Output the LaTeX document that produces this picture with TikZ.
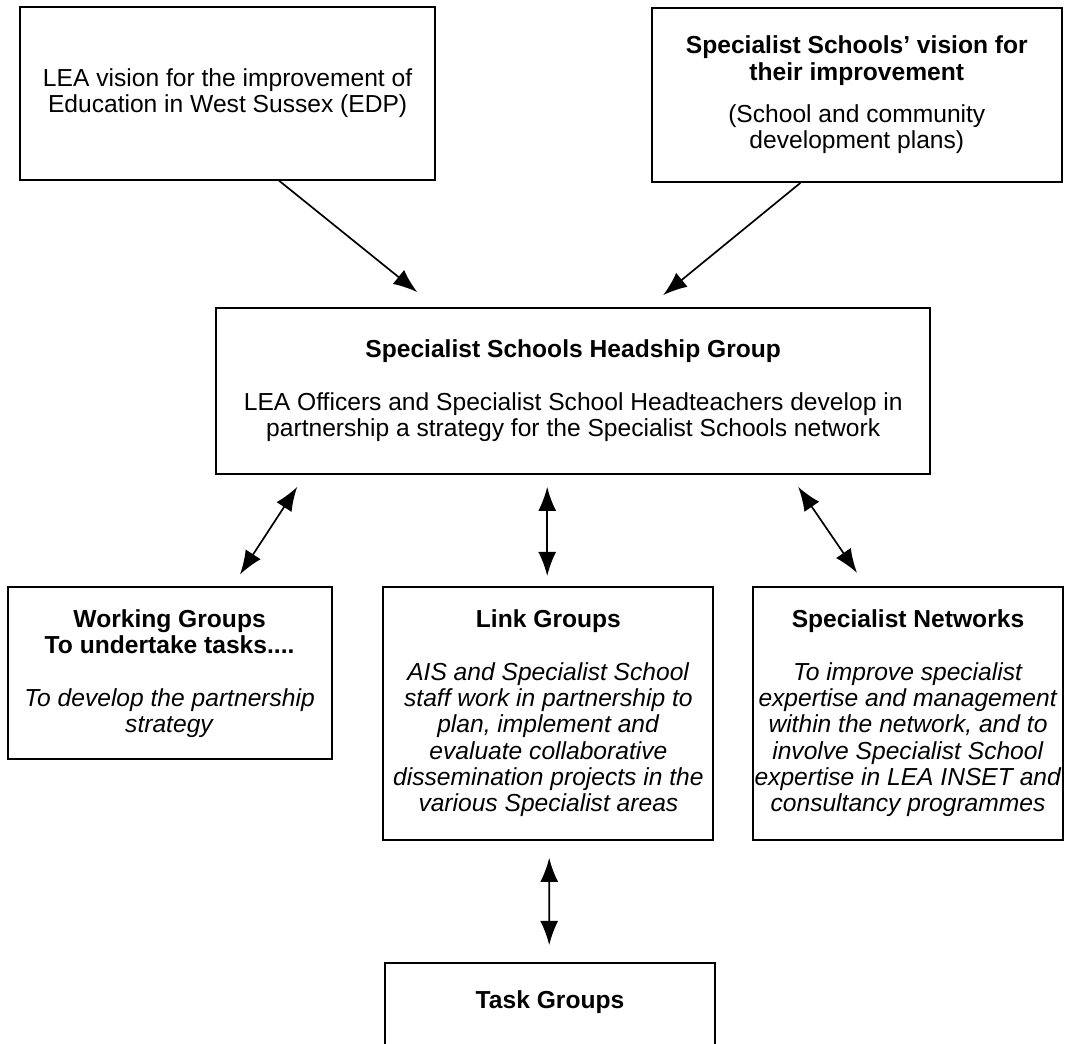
\documentclass[tikz,border=0pt]{standalone}
\usepackage{fontspec}
\setmainfont{Liberation Sans}
\usetikzlibrary{arrows.meta}

\begin{document}
\begin{tikzpicture}[
  box/.style={draw, line width=1.3pt, align=center, inner sep=0pt,
    font=\fontsize{17.5}{18.7}\selectfont},
  arr/.style={line width=1.2pt, -{Latex[length=0.6cm,width=0.45cm]}},
  darr/.style={line width=1.2pt, {Latex[length=0.6cm,width=0.45cm]}-{Latex[length=0.6cm,width=0.45cm]}}
]
\useasboundingbox (0,0) rectangle (26.625,26.075);
\clip (0,0) rectangle (26.625,26.075);

% top row
\node[box, minimum width=10.375cm, minimum height=4.325cm] (lea) at (5.69,23.74)
  {LEA vision for the improvement of\\Education in West Sussex (EDP)};
\node[box, minimum width=10.25cm, minimum height=4.35cm] (vision) at (21.42,23.7)
  {\textbf{Specialist Schools’ vision for}\\\textbf{their improvement}\\[0.4cm]
   (School and community\\development plans)};

% headship group
\node[box, minimum width=17.85cm, minimum height=4.15cm] (head) at (14.33,16.3)
  {\textbf{Specialist Schools Headship Group}\\[0.66cm]
   LEA Officers and Specialist School Headteachers develop in\\
   partnership a strategy for the Specialist Schools network};

% second row
\node[box, minimum width=8.1cm, minimum height=4.3cm] (working) at (4.24,9.24)
  {\textbf{Working Groups}\\\textbf{To undertake tasks....}\\[0.66cm]
   \textit{To develop the partnership}\\\textit{strategy}};
\node[box, minimum width=8.25cm, minimum height=6.33cm] (link) at (13.71,8.24)
  {\textbf{Link Groups}\\[0.66cm]
   \textit{AIS and Specialist School}\\\textit{staff work in partnership to}\\
   \textit{plan, implement and}\\\textit{evaluate collaborative}\\
   \textit{dissemination projects in the}\\\textit{various Specialist areas}};
\node[box, minimum width=7.75cm, minimum height=6.33cm] (spec) at (22.7,8.24)
  {\textbf{Specialist Networks}\\[0.66cm]
   \textit{To improve specialist}\\\textit{expertise and management}\\
   \textit{within the network, and to}\\\textit{involve Specialist School}\\
   \textit{expertise in LEA INSET and}\\\textit{consultancy programmes}};

% task groups, cut off at the bottom
\node[box, minimum width=8.25cm, minimum height=4cm, anchor=north] (task) at (13.75,2.025) {};
\node[font=\fontsize{17.5}{18.7}\selectfont\bfseries] (tasktitle) at (13.75,1.025) {Task Groups};

% arrows
\draw[arr] ([xshift=1.29cm]lea.south) -- ([xshift=-3.9cm,yshift=0.375cm]head.north);
\draw[arr] ([xshift=-1.41cm]vision.south) -- ([xshift=2.25cm,yshift=0.3cm]head.north);
\draw[darr] ([xshift=-6.9cm,yshift=-0.3cm]head.south) -- ([xshift=1.76cm,yshift=0.3cm]working.north);
\draw[darr] ([xshift=-0.65cm,yshift=-0.3cm]head.south) -- ([xshift=-0.03cm,yshift=0.25cm]link.north);
\draw[darr] ([xshift=5.625cm,yshift=-0.3cm]head.south) -- ([xshift=-1.275cm,yshift=0.325cm]spec.north);
\draw[darr] ([xshift=0.02cm,yshift=-0.425cm]link.south) -- ([xshift=-0.02cm,yshift=0.425cm]task.north);
\end{tikzpicture}
\end{document}
